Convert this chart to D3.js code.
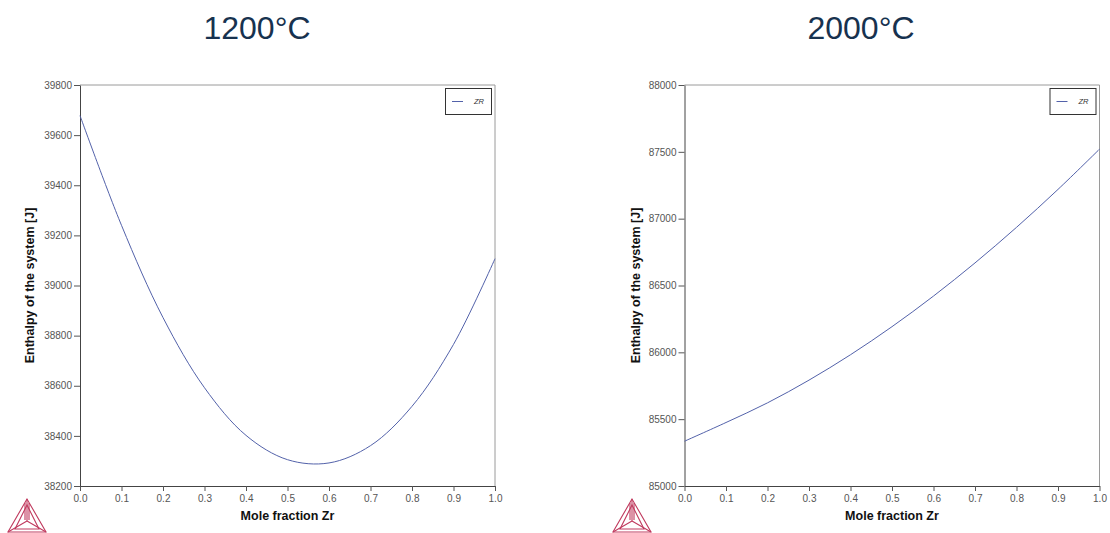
<!DOCTYPE html>
<html>
<head>
<meta charset="utf-8">
<script src="https://cdn.jsdelivr.net/npm/d3@7"></script>
<style>
  html, body { margin: 0; padding: 0; background: #fff; }
  svg { display: block; }
  text { font-family: "Liberation Sans", Arial, sans-serif; }
</style>
</head>
<body>
<svg id="chart" width="1110" height="533"></svg>
<script>
// ---- data ----
const titles = ["1200°C", "2000°C"];
const seriesName = "ZR";
const xLabel = "Mole fraction Zr";
const yLabel = "Enthalpy of the system [J]";

const molFrac1200 = [0, 0.1, 0.2, 0.3, 0.4, 0.5, 0.6, 0.7, 0.8, 0.9, 1.0];
const enthalpy1200 = [39678, 39240, 38872, 38592, 38402, 38305, 38292, 38361, 38518, 38765, 39107];

const molFrac2000 = [0, 0.1, 0.2, 0.3, 0.4, 0.5, 0.6, 0.7, 0.8, 0.9, 1.0];
const enthalpy2000 = [85335, 85475, 85622, 85792, 85982, 86192, 86421, 86669, 86935, 87219, 87520];

const xTicks = [0, 0.1, 0.2, 0.3, 0.4, 0.5, 0.6, 0.7, 0.8, 0.9, 1.0];
const yTicks1200 = [38200, 38400, 38600, 38800, 39000, 39200, 39400, 39600, 39800];
const yTicks2000 = [85000, 85500, 86000, 86500, 87000, 87500, 88000];

// ---- layout ----
const panels = [
  { title: titles[0], x: molFrac1200, y: enthalpy1200, yTicks: yTicks1200,
    left: 80, right: 495, top: 85, bottom: 486, yLabelX: 34, logoX: 27, titleX: 257 },
  { title: titles[1], x: molFrac2000, y: enthalpy2000, yTicks: yTicks2000,
    left: 684.5, right: 1099.5, top: 85, bottom: 486, yLabelX: 640, logoX: 632, titleX: 861 }
];

const svg = d3.select("#chart");
const lineColor = "#5362aa";

panels.forEach(p => {
  const g = svg.append("g");
  const xs = d3.scaleLinear().domain([0, 1]).range([p.left, p.right]);
  const ys = d3.scaleLinear().domain(d3.extent(p.yTicks)).range([p.bottom, p.top]);

  // title
  g.append("text").attr("x", p.titleX).attr("y", 39)
    .attr("text-anchor", "middle").attr("font-size", 32)
    .attr("fill", "#17324f").text(p.title);

  // frame (top/right)
  g.append("path")
    .attr("d", `M${p.left},${ys.range()[1]}H${p.right}V${p.bottom}`)
    .attr("fill", "none").attr("stroke", "#9a9a9a").attr("stroke-width", 1);

  // x axis
  const xAxis = d3.axisBottom(xs).tickValues(xTicks).tickFormat(d3.format(".1f"))
    .tickSizeOuter(0).tickSizeInner(5).tickPadding(4);
  const gx = g.append("g").attr("transform", `translate(0,${p.bottom})`).call(xAxis);
  gx.select(".domain").attr("stroke", "#444");
  gx.selectAll(".tick line").attr("stroke", "#555");
  gx.selectAll(".tick text").attr("font-size", 10).attr("fill", "#555")
    .attr("font-family", "Liberation Sans, Arial, sans-serif");

  // y axis
  const yAxis = d3.axisLeft(ys).tickValues(p.yTicks).tickFormat(d3.format("d"))
    .tickSizeOuter(0).tickSizeInner(6).tickPadding(2);
  const gy = g.append("g").attr("transform", `translate(${p.left},0)`).call(yAxis);
  gy.select(".domain").attr("stroke", "#444");
  gy.selectAll(".tick line").attr("stroke", "#555");
  gy.selectAll(".tick text").attr("font-size", 10).attr("fill", "#555")
    .attr("font-family", "Liberation Sans, Arial, sans-serif");

  // axis labels
  g.append("text").attr("x", (p.left + p.right) / 2).attr("y", 520)
    .attr("text-anchor", "middle").attr("font-size", 12.5).attr("font-weight", "bold")
    .attr("fill", "#111").text(xLabel);
  g.append("text")
    .attr("transform", `translate(${p.yLabelX},${(p.top + p.bottom) / 2}) rotate(-90)`)
    .attr("text-anchor", "middle").attr("font-size", 12.5).attr("font-weight", "bold")
    .attr("fill", "#111").text(yLabel);

  // curve
  const pts = p.x.map((v, i) => [v, p.y[i]]);
  g.append("path").datum(pts)
    .attr("d", d3.line().x(d => xs(d[0])).y(d => ys(d[1])).curve(d3.curveCatmullRom.alpha(0.5)))
    .attr("fill", "none").attr("stroke", lineColor).attr("stroke-width", 1);

  // legend
  const lx = p.right - 50, ly = 88;
  g.append("rect").attr("x", lx + 0.5).attr("y", ly + 0.5).attr("width", 46).attr("height", 26)
    .attr("fill", "#fff").attr("stroke", "#333").attr("stroke-width", 1);
  g.append("line").attr("x1", lx + 7).attr("x2", lx + 18).attr("y1", ly + 13.5).attr("y2", ly + 13.5)
    .attr("stroke", lineColor).attr("stroke-width", 1);
  g.append("text").attr("x", lx + 29).attr("y", ly + 16).attr("font-size", 7.5)
    .attr("font-style", "italic").attr("fill", "#333").text(seriesName);

  // logo (triangle mark)
  const cx = p.logoX, top = 499, base = 532, half = 19;
  const lg = g.append("g").attr("fill", "none").attr("stroke", "#c03a5e").attr("stroke-width", 1.1);
  const A = [cx, top], B = [cx - half, base], C = [cx + half, base], M = [cx, base - 11];
  lg.append("path").attr("d", `M${A}L${B}L${C}Z`);
  lg.append("path").attr("d", `M${[cx, top + 6]}L${[cx - half + 7, base - 3]}L${[cx + half - 7, base - 3]}Z`);
  lg.append("path").attr("d", `M${A}L${M}M${B}L${M}M${C}L${M}`);
  lg.append("path").attr("d", `M${[cx - 2, top + 4]}L${[cx - 2, base - 12]}M${[cx + 2, top + 4]}L${[cx + 2, base - 12]}`);
});
</script>
</body>
</html>
